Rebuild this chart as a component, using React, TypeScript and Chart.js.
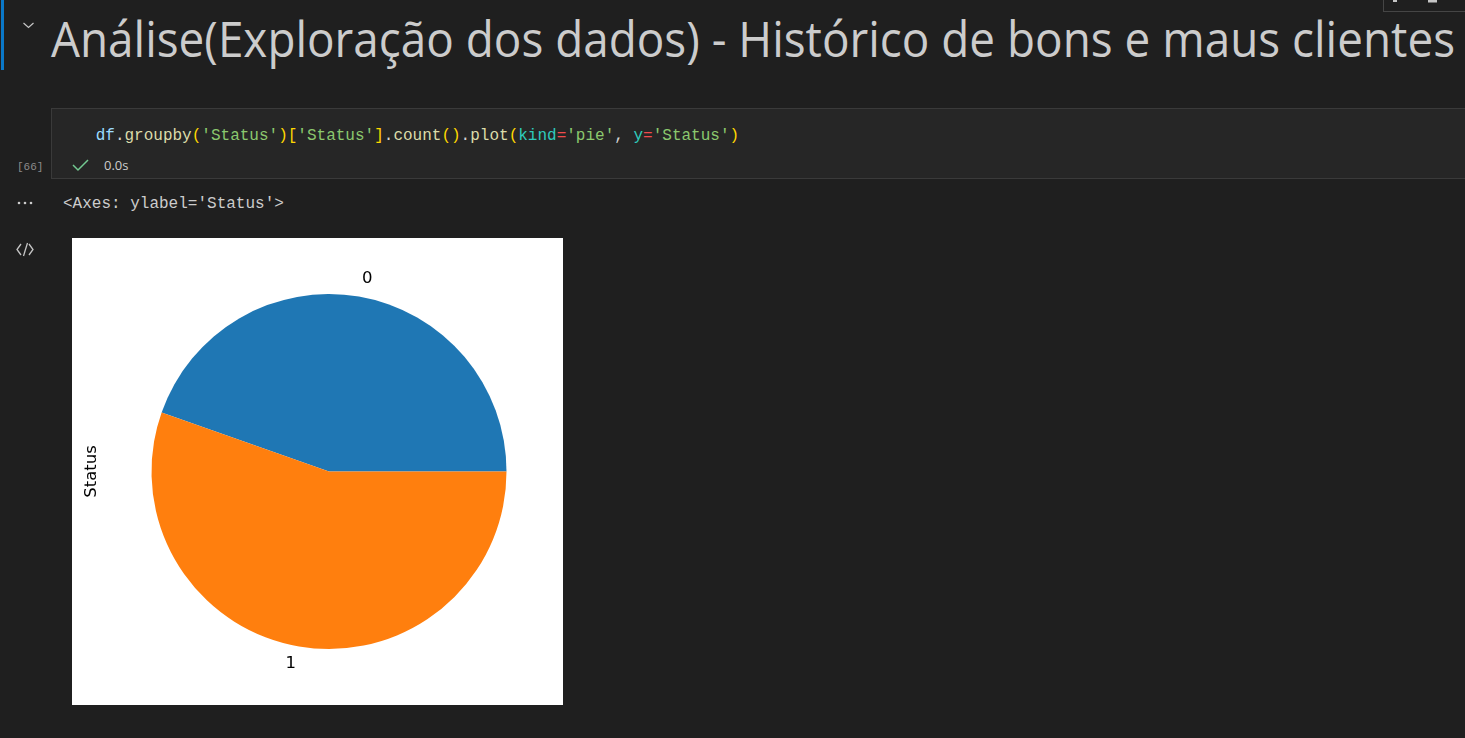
import React, { useEffect, useRef } from "react";
import { Chart, registerables } from "chart.js";

Chart.register(...registerables);

// ---- data ----
const categories = ["0", "1"];
const statusCounts = [446, 554];
const sliceColors = ["#1f77b4", "#ff7f0e"];
const yLabel = "Status";

const titleText = "Análise(Exploração dos dados) - Histórico de bons e maus clientes";
const codeTokens: [string, string][] = [
  ["df", "#9cdcfe"],
  [".", "#d4d4d4"],
  ["groupby", "#dcdcaa"],
  ["(", "#ffd700"],
  ["'Status'", "#8bc86e"],
  [")", "#ffd700"],
  ["[", "#ffd700"],
  ["'Status'", "#8bc86e"],
  ["]", "#ffd700"],
  [".", "#d4d4d4"],
  ["count", "#dcdcaa"],
  ["()", "#ffd700"],
  [".", "#d4d4d4"],
  ["plot", "#dcdcaa"],
  ["(", "#ffd700"],
  ["kind", "#2fcbbd"],
  ["=", "#f14c4c"],
  ["'pie'", "#8bc86e"],
  [",", "#d4d4d4"],
  [" ", "#d4d4d4"],
  ["y", "#2fcbbd"],
  ["=", "#f14c4c"],
  ["'Status'", "#8bc86e"],
  [")", "#ffd700"],
];

const pieLabelPlugin = {
  id: "pieLabels",
  afterDraw(chart: any) {
    const ctx = chart.ctx;
    const meta = chart.getDatasetMeta(0);
    ctx.save();
    ctx.fillStyle = "#000000";
    ctx.font = "16.5px 'DejaVu Sans'";
    ctx.textBaseline = "middle";
    meta.data.forEach((arc: any, i: number) => {
      const mid = (arc.startAngle + arc.endAngle) / 2;
      const r = arc.outerRadius * 1.1;
      const x = arc.x + Math.cos(mid) * r;
      const y = arc.y + Math.sin(mid) * r;
      ctx.textAlign = Math.cos(mid) >= 0 ? "left" : "right";
      ctx.fillText(chart.data.labels[i], x, y);
    });
    // y label
    const a = chart.chartArea;
    ctx.translate(19.5, (a.top + a.bottom) / 2);
    ctx.rotate(-Math.PI / 2);
    ctx.textAlign = "center";
    ctx.fillText(yLabel, 0, 0);
    ctx.restore();
  },
};

function PieChart() {
  const ref = useRef<HTMLCanvasElement>(null);
  useEffect(() => {
    if (!ref.current) return;
    const total = statusCounts.reduce((s, v) => s + v, 0);
    const chart = new Chart(ref.current, {
      type: "pie",
      data: {
        labels: categories,
        datasets: [
          {
            data: statusCounts,
            backgroundColor: sliceColors,
            borderWidth: 0,
          },
        ],
      },
      options: {
        animation: false,
        responsive: false,
        rotation: 90 - (360 * statusCounts[0]) / total,
        layout: { padding: { left: 79, right: 56, top: 56, bottom: 56 } },
        plugins: {
          legend: { display: false },
          tooltip: { enabled: false },
        },
      },
      plugins: [pieLabelPlugin],
    });
    return () => chart.destroy();
  }, []);
  return (
    <canvas
      ref={ref}
      width={491}
      height={467}
      style={{ position: "absolute", left: 72, top: 238, width: 491, height: 467, background: "#ffffff" }}
    />
  );
}

export default function App() {
  const mono = "'Liberation Mono', 'DejaVu Sans Mono', monospace";
  const sans = "'Open Sans', 'Noto Sans', sans-serif";
  return (
    <div style={{ position: "fixed", left: 0, top: 0, width: 1465, height: 738, background: "#1f1f1f", overflow: "hidden" }}>
      <svg width={1465} height={738} style={{ position: "absolute", left: 0, top: 0 }}>
        {/* focus bar */}
        <rect x={1} y={0} width={3} height={70} fill="#0a78c8" />
        {/* chevron */}
        <polyline points="23.5,23 28.5,27.5 33.5,23" fill="none" stroke="#c5c5c5" strokeWidth={1.2} />
        {/* title */}
        <text x={51} y={57} fontFamily={sans} fontSize={49} fill="#cccccc" textLength={1404} lengthAdjust="spacingAndGlyphs">
          {titleText}
        </text>
        {/* top-right toolbar */}
        <rect x={1383.5} y={-2} width={90} height={13.5} fill="#1f1f1f" stroke="#454545" strokeWidth={1} />
        <rect x={1393} y={0} width={4} height={2} fill="#c5c5c5" />
        <rect x={1428} y={0} width={9} height={2.5} fill="#c5c5c5" />
        {/* code cell */}
        <rect x={51.5} y={108.5} width={1420} height={70} fill="#262626" stroke="#3a3a3a" strokeWidth={1} />
        <text x={95.7} y={139.5} fontFamily={mono} fontSize={16} xmlSpace="preserve" style={{ whiteSpace: "pre" }}>
          {codeTokens.map((t, i) => (
            <tspan key={i} fill={t[1]}>
              {t[0]}
            </tspan>
          ))}
        </text>
        {/* execution count & status */}
        <text x={17} y={169.5} fontFamily={mono} fontSize={11} fill="#8b8b8b">
          [66]
        </text>
        <polyline points="73,165 78,170 88,160" fill="none" stroke="#73c991" strokeWidth={1.5} />
        <text x={104} y={170} fontFamily={sans} fontSize={13} fill="#cccccc">
          0.0s
        </text>
        {/* output */}
        <circle cx={19} cy={203} r={1.3} fill="#cccccc" />
        <circle cx={25} cy={203} r={1.3} fill="#cccccc" />
        <circle cx={31} cy={203} r={1.3} fill="#cccccc" />
        <text x={63} y={207.5} fontFamily={mono} fontSize={16} fill="#cccccc">
          {"<Axes: ylabel='Status'>"}
        </text>
        {/* code icon */}
        <g fill="none" stroke="#c5c5c5" strokeWidth={1.3}>
          <polyline points="21,244 17,249.5 21,255" />
          <line x1={27.5} y1={243} x2={23.5} y2={256} />
          <polyline points="29,244 33,249.5 29,255" />
        </g>
      </svg>
      <PieChart />
    </div>
  );
}
